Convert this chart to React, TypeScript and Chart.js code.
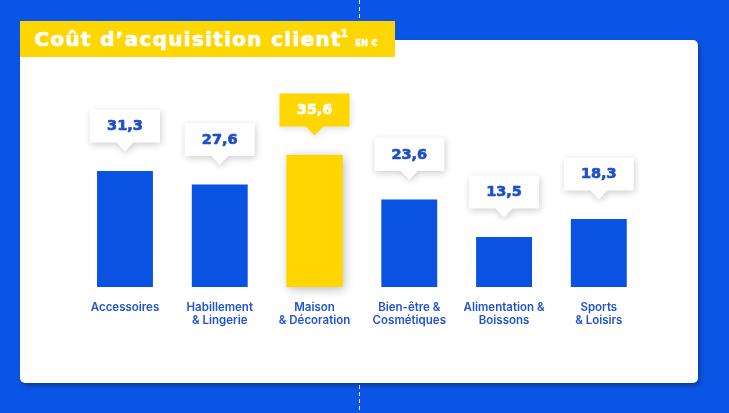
import React, { useEffect, useRef } from "react";
import { Chart, registerables } from "chart.js";

Chart.register(...registerables);

const categories: string[][] = [
  ["Accessoires"],
  ["Habillement", "& Lingerie"],
  ["Maison", "& Décoration"],
  ["Bien-être &", "Cosmétiques"],
  ["Alimentation &", "Boissons"],
  ["Sports", "& Loisirs"],
];
const values: number[] = [31.3, 27.6, 35.6, 23.6, 13.5, 18.3];
const valueLabels: string[] = ["31,3", "27,6", "35,6", "23,6", "13,5", "18,3"];
const highlightIndex = 2;

const BLUE_BG = "#0B55E6";
const BAR_BLUE = "#0A52E2";
const TEXT_BLUE = "#1E4FCB";
const YELLOW = "#FFD600";

const calloutPlugin = {
  id: "callouts",
  beforeDatasetsDraw(chart: any) {
    const meta = chart.getDatasetMeta(0);
    const el = meta.data[highlightIndex];
    if (!el) return;
    const { x, y, base, width } = el.getProps(["x", "y", "base", "width"], true);
    const ctx = chart.ctx;
    ctx.save();
    ctx.shadowColor = "rgba(0,0,0,0.28)";
    ctx.shadowBlur = 10;
    ctx.shadowOffsetX = 2;
    ctx.shadowOffsetY = 2;
    ctx.fillStyle = YELLOW;
    ctx.fillRect(x - width / 2, y, width, base - y);
    ctx.restore();
  },
  afterDatasetsDraw(chart: any) {
    const meta = chart.getDatasetMeta(0);
    const ctx = chart.ctx;
    meta.data.forEach((el: any, i: number) => {
      const { x, y } = el.getProps(["x", "y"], true);
      const hl = i === highlightIndex;
      const tip = y - 19.5;
      const boxBottom = tip - 9;
      const boxTop = boxBottom - 33;
      const w = 70;
      const left = x - w / 2;
      ctx.save();
      ctx.beginPath();
      ctx.moveTo(left, boxTop);
      ctx.lineTo(left + w, boxTop);
      ctx.lineTo(left + w, boxBottom);
      ctx.lineTo(x + 8.5, boxBottom);
      ctx.lineTo(x, tip);
      ctx.lineTo(x - 8.5, boxBottom);
      ctx.lineTo(left, boxBottom);
      ctx.closePath();
      ctx.shadowColor = hl ? "rgba(0,0,0,0.12)" : "rgba(0,0,0,0.2)";
      ctx.shadowBlur = 7;
      ctx.shadowOffsetX = 1;
      ctx.shadowOffsetY = 2;
      ctx.fillStyle = hl ? YELLOW : "#FFFFFF";
      ctx.fill();
      ctx.restore();
      ctx.save();
      ctx.font = "bold 14.5px 'DejaVu Sans'";
      const c = hl ? "#FFFFFF" : TEXT_BLUE;
      ctx.fillStyle = c;
      ctx.strokeStyle = c;
      ctx.lineWidth = 0.7;
      ctx.lineJoin = "round";
      ctx.textAlign = "center";
      ctx.textBaseline = "middle";
      const ty = (boxTop + boxBottom) / 2 + 0.5;
      ctx.fillText(valueLabels[i], x, ty);
      ctx.strokeText(valueLabels[i], x, ty);
      ctx.restore();
    });
  },
};

export default function App() {
  const canvasRef = useRef<HTMLCanvasElement | null>(null);

  useEffect(() => {
    document.body.style.margin = "0";
    const canvas = canvasRef.current;
    if (!canvas) return;
    const chart = new Chart(canvas, {
      type: "bar",
      data: {
        labels: categories,
        datasets: [
          {
            data: values,
            backgroundColor: values.map((_, i) => (i === highlightIndex ? YELLOW : BAR_BLUE)),
            borderWidth: 0,
            barPercentage: 0.59,
            categoryPercentage: 1,
          },
        ],
      },
      options: {
        animation: false,
        responsive: true,
        maintainAspectRatio: false,
        layout: {
          padding: { left: 77.6, right: 82.8, top: 138.6, bottom: 71 },
        },
        plugins: {
          legend: { display: false },
          tooltip: { enabled: false },
        },
        scales: {
          x: {
            grid: { display: false, drawTicks: false },
            border: { display: false },
            ticks: {
              color: "#2153D2",
              padding: 14.5,
              maxRotation: 0,
              autoSkip: false,
              font: { family: "Inter", size: 11.5, weight: 600, lineHeight: "13px" } as any,
            },
          },
          y: {
            display: false,
            min: 0,
            max: 40,
          },
        },
      },
      plugins: [calloutPlugin],
    });
    return () => chart.destroy();
  }, []);

  return (
    <div
      style={{
        position: "fixed",
        left: 0,
        top: 0,
        width: 729,
        height: 413,
        overflow: "hidden",
        background: BLUE_BG,
      }}
    >
      <div
        style={{
          position: "absolute",
          left: 359,
          top: 0,
          width: 1,
          height: 413,
          background: "repeating-linear-gradient(to bottom, #ffffff 0px, #ffffff 4px, transparent 4px, transparent 7px)",
          opacity: 0.9,
        }}
      />
      <div
        style={{
          position: "absolute",
          left: 20,
          top: 40,
          width: 678,
          height: 343,
          background: "#ffffff",
          borderRadius: 5,
          boxShadow: "2px 3px 5px rgba(0,0,0,0.3)",
        }}
      />
      <div
        style={{
          position: "absolute",
          left: 20,
          top: 21,
          width: 375,
          height: 36,
          background: YELLOW,
        }}
      >
        <div
          style={{
            position: "absolute",
            left: 14.5,
            top: 0,
            height: 36,
            lineHeight: "36px",
            whiteSpace: "nowrap",
            color: "#ffffff",
            fontFamily: "'DejaVu Sans'",
            fontWeight: 700,
            fontSize: 20,
            letterSpacing: 1.3,
            WebkitTextStroke: "0.6px #ffffff",
          }}
        >
          Coût d’acquisition client
          <span style={{ fontSize: 10, verticalAlign: "top", position: "relative", top: -5, marginLeft: -1 }}>1</span>
          <span style={{ fontSize: 8.5, letterSpacing: 0.2, marginLeft: 6, WebkitTextStroke: "0.3px #ffffff" }}>EN €</span>
        </div>
      </div>
      <div style={{ position: "absolute", left: 0, top: 0, width: 729, height: 413 }}>
        <canvas ref={canvasRef} />
      </div>
    </div>
  );
}
